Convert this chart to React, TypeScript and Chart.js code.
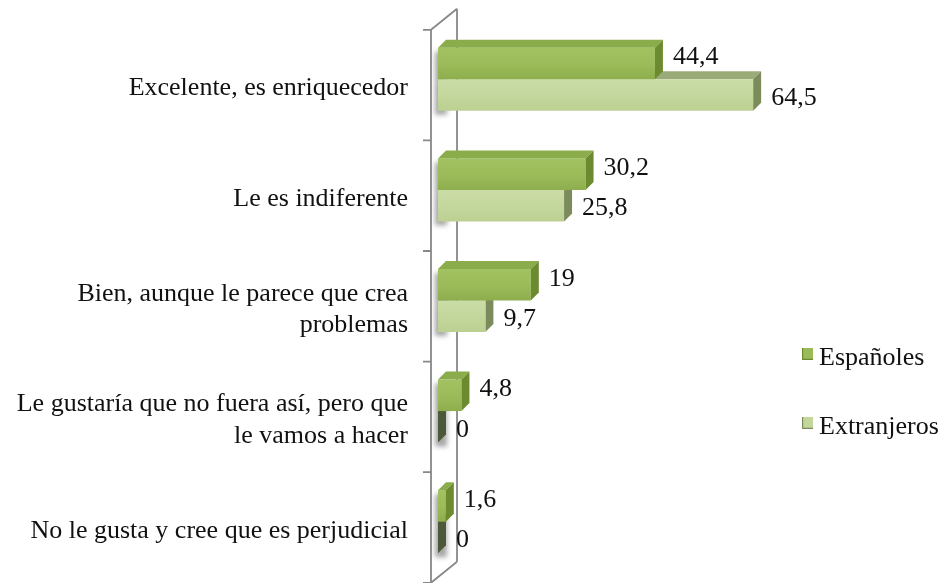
import { useEffect, useRef } from 'react';
import { Chart, registerables } from 'chart.js';

Chart.register(...registerables);

// ---- data ----
const categories: (string | string[])[] = [
  'Excelente, es enriquecedor',
  'Le es indiferente',
  ['Bien, aunque le parece que crea', 'problemas'],
  ['Le gustaría que no fuera así, pero que', 'le vamos a hacer'],
  'No le gusta y cree que es perjudicial',
];
const seriesNames = ['Españoles', 'Extranjeros'];
const espanoles = [44.4, 30.2, 19, 4.8, 1.6];
const extranjeros = [64.5, 25.8, 9.7, 0, 0];

// ---- style ----
const FONT = "'Liberation Serif', 'Times New Roman', serif";
const FRONT = ['#9bbb59', '#c3d69b'];
const GRAD = [
  ['#a2c261', '#8eae4e'],
  ['#cbdda7', '#bdd093'],
];
const FACES = [
  { top: '#8aac4b', side: '#6c8b31', zero: '#4d5839' },
  { top: '#9aab78', side: '#7c8b5c', zero: '#4d5839' },
];
const DEPTH = 8;
const LABEL_DY = [-6, 3];
const CAT_PCT = 0.57;

function frontFill(di: number) {
  return (c: any) => {
    const chart = c.chart;
    const y = chart.scales && chart.scales.y;
    if (!chart.chartArea || !y || c.dataIndex === undefined) return FRONT[di];
    const center = y.getPixelForValue(c.dataIndex);
    const band = (chart.chartArea.bottom - chart.chartArea.top) / chart.data.labels.length;
    const h = (band * CAT_PCT) / 2;
    const top = di === 0 ? center - h : center;
    const g = chart.ctx.createLinearGradient(0, top, 0, top + h);
    g.addColorStop(0, GRAD[di][0]);
    g.addColorStop(0.55, FRONT[di]);
    g.addColorStop(1, GRAD[di][1]);
    return g;
  };
}

function drawShadows(chart: any) {
  const ctx: CanvasRenderingContext2D = chart.ctx;
  ctx.save();
  ctx.shadowColor = 'rgba(0,0,0,0.35)';
  ctx.shadowBlur = 5;
  ctx.shadowOffsetX = 10000 - 3;
  ctx.shadowOffsetY = 4;
  ctx.fillStyle = '#000';
  [0, 1].forEach((di) => {
    chart.getDatasetMeta(di).data.forEach((el: any) => {
      const { y, base, height } = el.getProps(['y', 'base', 'height'], true);
      ctx.fillRect(base - 10000, y - height / 2, 12, height);
    });
  });
  ctx.restore();
}

function drawDepth(chart: any, index: number) {
  const meta = chart.getDatasetMeta(index);
  const ctx: CanvasRenderingContext2D = chart.ctx;
  const values = chart.data.datasets[index].data as number[];
  meta.data.forEach((el: any, i: number) => {
    const { x, y, base, height } = el.getProps(['x', 'y', 'base', 'height'], true);
    const top = y - height / 2;
    const bottom = y + height / 2;
    const left = Math.min(base, x);
    const right = Math.max(base, x);
    ctx.save();
    if (right - left > 0.5) {
      ctx.fillStyle = FACES[index].top;
      ctx.beginPath();
      ctx.moveTo(left, top);
      ctx.lineTo(right, top);
      ctx.lineTo(right + DEPTH, top - DEPTH);
      ctx.lineTo(left + DEPTH, top - DEPTH);
      ctx.closePath();
      ctx.fill();
    }
    ctx.fillStyle = values[i] === 0 ? FACES[index].zero : FACES[index].side;
    ctx.beginPath();
    ctx.moveTo(right, top);
    ctx.lineTo(right + DEPTH, top - DEPTH);
    ctx.lineTo(right + DEPTH, bottom - DEPTH);
    ctx.lineTo(right, bottom);
    ctx.closePath();
    ctx.fill();
    ctx.restore();
  });
}

const threeD = {
  id: 'threeD',
  beforeDatasetsDraw(chart: any) {
    const { ctx, chartArea: ca } = chart;
    const n = chart.data.labels.length;
    const frontX = ca.left - 7;
    const wallDX = 26;
    const wallDY = 21;
    const frontTop = ca.top + 5.8;
    const frontBottom = ca.bottom + 5.8;
    const band = (frontBottom - frontTop) / n;
    ctx.save();
    ctx.strokeStyle = '#888888';
    ctx.lineWidth = 1.8;
    ctx.beginPath();
    ctx.moveTo(frontX, frontTop);
    ctx.lineTo(frontX, frontBottom + 2);
    ctx.moveTo(frontX + wallDX, frontTop - wallDY);
    ctx.lineTo(frontX + wallDX, frontBottom - wallDY);
    ctx.moveTo(frontX, frontTop);
    ctx.lineTo(frontX + wallDX, frontTop - wallDY);
    ctx.moveTo(frontX, frontBottom);
    ctx.lineTo(frontX + wallDX, frontBottom - wallDY);
    for (let i = 0; i <= n; i++) {
      const ty = frontTop + i * band;
      ctx.moveTo(frontX - 8, ty);
      ctx.lineTo(frontX, ty);
    }
    ctx.stroke();
    ctx.restore();
    drawShadows(chart);
  },
  beforeDatasetDraw(chart: any, args: any) {
    if (args.index === 1) drawDepth(chart, 1);
  },
  afterDatasetDraw(chart: any, args: any) {
    if (args.index === 0) drawDepth(chart, 0);
  },
  afterDatasetsDraw(chart: any) {
    const ctx: CanvasRenderingContext2D = chart.ctx;
    ctx.save();
    ctx.font = `26px ${FONT}`;
    ctx.fillStyle = '#111111';
    ctx.textAlign = 'left';
    ctx.textBaseline = 'middle';
    chart.data.datasets.forEach((ds: any, di: number) => {
      const meta = chart.getDatasetMeta(di);
      meta.data.forEach((el: any, i: number) => {
        const { x, y } = el.getProps(['x', 'y'], true);
        const txt = String(ds.data[i]).replace('.', ',');
        ctx.fillText(txt, x + 18, y + LABEL_DY[di]);
      });
    });
    ctx.restore();
  },
  afterDraw(chart: any) {
    const ctx: CanvasRenderingContext2D = chart.ctx;
    const lx = 802;
    const baselines = [365, 434];
    ctx.save();
    ctx.font = `26px ${FONT}`;
    ctx.textAlign = 'left';
    ctx.textBaseline = 'alphabetic';
    chart.data.datasets.forEach((ds: any, di: number) => {
      const b = baselines[di];
      const sq = b - 17;
      ctx.fillStyle = FRONT[di];
      ctx.fillRect(lx, sq, 11, 12);
      ctx.strokeStyle = FACES[di].side;
      ctx.lineWidth = 1.2;
      ctx.beginPath();
      ctx.moveTo(lx + 0.6, sq);
      ctx.lineTo(lx + 0.6, sq + 11.4);
      ctx.lineTo(lx + 11, sq + 11.4);
      ctx.stroke();
      ctx.fillStyle = '#111111';
      ctx.fillText(ds.label, lx + 17, b);
    });
    ctx.restore();
  },
};

export default function App() {
  const ref = useRef<HTMLCanvasElement | null>(null);
  useEffect(() => {
    if (!ref.current) return;
    const chart = new Chart(ref.current, {
      type: 'bar',
      data: {
        labels: categories as any,
        datasets: [
          { label: seriesNames[0], data: espanoles, backgroundColor: frontFill(0) as any, borderWidth: 0 },
          { label: seriesNames[1], data: extranjeros, backgroundColor: frontFill(1) as any, borderWidth: 0 },
        ],
      },
      options: {
        indexAxis: 'y',
        responsive: false,
        animation: false,
        devicePixelRatio: 1,
        layout: { padding: { top: 24, bottom: 6, left: 0, right: 164 } },
        datasets: { bar: { categoryPercentage: CAT_PCT, barPercentage: 1 } } as any,
        scales: {
          x: { display: false, min: 0, max: 70 },
          y: {
            grid: { display: false, drawTicks: false },
            border: { display: false },
            ticks: {
              color: '#111111',
              font: { family: FONT, size: 26, lineHeight: 1.2 },
              padding: 30,
              labelOffset: 9,
              autoSkip: false,
            },
            afterFit: (s: any) => {
              s.width = 438;
              s.paddingTop = 0;
              s.paddingBottom = 0;
            },
          },
        },
        plugins: { legend: { display: false }, tooltip: { enabled: false } },
      },
      plugins: [threeD],
    });
    return () => chart.destroy();
  }, []);
  return (
    <div style={{ position: 'fixed', left: 0, top: 0, width: 944, height: 583, background: '#ffffff' }}>
      <canvas ref={ref} width={944} height={583} style={{ display: 'block' }} />
    </div>
  );
}
